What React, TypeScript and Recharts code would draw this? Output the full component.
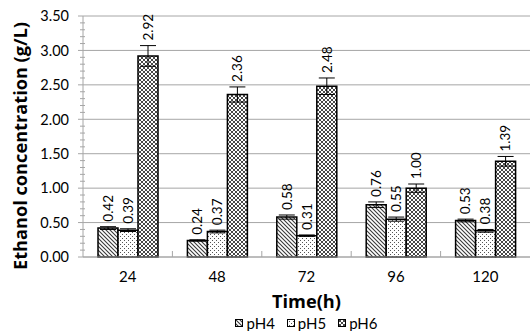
import { Bar, BarChart, CartesianGrid, ErrorBar, Label, LabelList, Legend, XAxis, YAxis } from "recharts";

const times = ["24", "48", "72", "96", "120"];
const ph4 = [0.42, 0.24, 0.58, 0.76, 0.53];
const ph5 = [0.39, 0.37, 0.31, 0.55, 0.38];
const ph6 = [2.92, 2.36, 2.48, 1.0, 1.39];
const ph4Err = [0.02, 0.01, 0.03, 0.04, 0.02];
const ph5Err = [0.02, 0.02, 0.01, 0.03, 0.02];
const ph6Err = [0.15, 0.11, 0.12, 0.06, 0.07];
const majorTicks = [0, 0.5, 1, 1.5, 2, 2.5, 3, 3.5];

const FONT = "Lato, 'Open Sans', sans-serif";
const TITLE_FONT = "'Open Sans', Lato, sans-serif";
const GRID = "#a6a6a6";
const X_TICK_MARGIN = 14;

// minor ticks every 0.1 between the major ones
const allTicks = majorTicks.flatMap((t, i) =>
  i === majorTicks.length - 1 ? [t] : [0, 1, 2, 3, 4].map((k) => Math.round((t + k * 0.1) * 10) / 10)
);

const data = times.map((t, i) => ({
  time: t,
  pH4: ph4[i],
  pH5: ph5[i],
  pH6: ph6[i],
  pH4Err: ph4Err[i],
  pH5Err: ph5Err[i],
  pH6Err: ph6Err[i],
}));

const series = [
  { key: "pH4", fill: "url(#pat4)", errs: ph4Err },
  { key: "pH5", fill: "url(#pat5)", errs: ph5Err },
  { key: "pH6", fill: "url(#pat6)", errs: ph6Err },
];

const makeLabel = (errs: number[]) => (props: any) => {
  const { x, y, width, height, value, index } = props;
  if (value == null) return null;
  const cx = x + width / 2;
  const errPx = value ? (errs[index] * height) / value : 0;
  const ty = y - errPx - 5;
  return (
    <text
      x={cx}
      y={ty}
      dy="0.36em"
      transform={`rotate(-90, ${cx}, ${ty})`}
      textAnchor="start"
      fontSize={13.5}
      fontFamily={FONT}
      fill="#000"
    >
      {Number(value).toFixed(2)}
    </text>
  );
};

const YTick = (props: any) => {
  const { x, y, payload } = props;
  const v = payload.value as number;
  const major = Math.abs(v * 2 - Math.round(v * 2)) < 1e-6;
  if (!major) {
    return <line x1={x - 3} x2={x + 2} y1={y} y2={y} stroke={GRID} strokeWidth={1} />;
  }
  return (
    <g>
      <line x1={x - 5} x2={x} y1={y} y2={y} stroke={GRID} strokeWidth={1} />
      <text x={x - 14} y={y} dy="0.36em" textAnchor="end" fontSize={14.5} fontFamily={FONT} fill="#000">
        {v.toFixed(2)}
      </text>
    </g>
  );
};

const XTick = (props: any) => {
  const { x, y, payload, index, visibleTicksCount, width } = props;
  const half = payload.offset ?? width / visibleTicksCount / 2;
  const axisY = y - X_TICK_MARGIN;
  return (
    <g>
      {index < visibleTicksCount - 1 && (
        <line x1={x + half} x2={x + half} y1={axisY} y2={axisY - 6} stroke={GRID} strokeWidth={1} />
      )}
      <text x={x} y={y} dy="0.71em" textAnchor="middle" fontSize={15} fontFamily={FONT} fill="#000">
        {payload.value}
      </text>
    </g>
  );
};

const LegendContent = () => (
  <div
    style={{
      height: 14,
      paddingLeft: 83,
      display: "flex",
      justifyContent: "center",
      alignItems: "center",
      gap: 12,
      fontFamily: FONT,
      fontSize: 15,
      lineHeight: "14px",
      color: "#000",
    }}
  >
    {series.map((s) => (
      <span key={s.key} style={{ display: "flex", alignItems: "center" }}>
        <svg width={8} height={8}>
          <rect x={0.5} y={0.5} width={7} height={7} fill={s.fill} stroke="#000" strokeWidth={1} />
        </svg>
        <span style={{ marginLeft: 3 }}>{s.key}</span>
      </span>
    ))}
  </div>
);

export default function App() {
  return (
    <div style={{ position: "absolute", left: 0, top: 0, background: "#fff" }}>
      <BarChart
        width={530}
        height={331}
        data={data}
        margin={{ top: 16, right: 0, left: 0, bottom: 1 }}
        barCategoryGap={15}
        barGap={0}
      >
        <defs>
          <pattern id="pat4" patternUnits="userSpaceOnUse" width={4} height={4}>
            <rect width={4} height={4} fill="#fff" />
            <path d="M-1,-1 L5,5 M-1,3 L1,5 M3,-1 L5,1" stroke="#3a3a3a" strokeWidth={1.1} />
          </pattern>
          <pattern id="pat5" patternUnits="userSpaceOnUse" width={4} height={4}>
            <rect width={4} height={4} fill="#fff" />
            <rect x={0} y={0} width={1} height={1} fill="#555" />
            <rect x={2} y={2} width={1} height={1} fill="#555" />
          </pattern>
          <pattern id="pat6" patternUnits="userSpaceOnUse" width={4} height={4}>
            <rect width={4} height={4} fill="#fff" />
            <path
              d="M-1,-1 L5,5 M-1,3 L1,5 M3,-1 L5,1 M-1,5 L5,-1 M-1,1 L1,-1 M3,5 L5,3"
              stroke="#333"
              strokeWidth={0.9}
            />
          </pattern>
        </defs>
        <CartesianGrid stroke={GRID} vertical={false} horizontalValues={majorTicks} />
        <XAxis
          dataKey="time"
          height={59}
          stroke={GRID}
          tickLine={false}
          tickSize={0}
          tickMargin={X_TICK_MARGIN}
          tick={<XTick />}
          interval={0}
        >
          <Label
            content={({ viewBox }: any) => (
              <text
                x={viewBox.x + viewBox.width / 2}
                y={viewBox.y + 51}
                textAnchor="middle"
                fontSize={17}
                fontWeight="bold"
                fontFamily={TITLE_FONT}
                textLength={69}
                lengthAdjust="spacingAndGlyphs"
                fill="#000"
              >
                Time(h)
              </text>
            )}
          />
        </XAxis>
        <YAxis
          width={83}
          domain={[0, 3.5]}
          ticks={allTicks}
          interval={0}
          stroke={GRID}
          tickLine={false}
          tickSize={0}
          tickMargin={0}
          tick={<YTick />}
        >
          <Label
            content={({ viewBox }: any) => {
              const lx = viewBox.x + 27;
              const ly = viewBox.y + viewBox.height / 2 + 9.5;
              return (
                <text
                  x={lx}
                  y={ly}
                  transform={`rotate(-90, ${lx}, ${ly})`}
                  textAnchor="middle"
                  fontSize={18}
                  fontWeight="bold"
                  fontFamily={TITLE_FONT}
                  textLength={248}
                  lengthAdjust="spacingAndGlyphs"
                  fill="#000"
                >
                  Ethanol concentration (g/L)
                </text>
              );
            }}
          />
        </YAxis>
        <Legend verticalAlign="bottom" content={<LegendContent />} />
        {series.map((s) => (
          <Bar
            key={s.key}
            dataKey={s.key}
            fill={s.fill}
            stroke="#000"
            strokeWidth={1.5}
            isAnimationActive={false}
          >
            <ErrorBar dataKey={`${s.key}Err`} width={8} stroke="#000" strokeWidth={1} direction="y" />
            <LabelList dataKey={s.key} content={makeLabel(s.errs)} />
          </Bar>
        ))}
      </BarChart>
    </div>
  );
}
